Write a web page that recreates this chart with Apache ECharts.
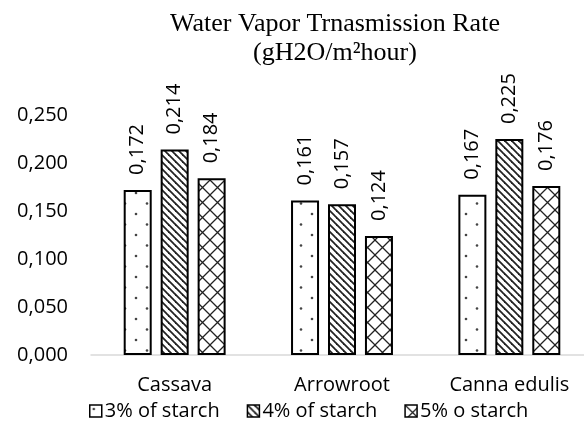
<!DOCTYPE html>
<html>
<head>
<meta charset="utf-8">
<script src="https://cdn.jsdelivr.net/npm/echarts@6/dist/echarts.min.js"></script>
<style>
html,body{margin:0;padding:0;background:#fff;overflow:hidden;}
#chart{width:600px;height:427px;}
</style>
</head>
<body>
<div id="chart"></div>
<script>
const categories = ['Cassava', 'Arrowroot', 'Canna edulis'];
const seriesNames = ['3% of starch', '4% of starch', '5% o starch'];
const starch3 = [0.172, 0.161, 0.167];
const starch4 = [0.214, 0.157, 0.225];
const starch5 = [0.184, 0.124, 0.176];
const yTicks = [0, 0.05, 0.10, 0.15, 0.20, 0.25];

function makeTile(w, h, draw) {
  const c = document.createElement('canvas');
  c.width = w; c.height = h;
  const ctx = c.getContext('2d');
  ctx.fillStyle = '#fff';
  ctx.fillRect(0, 0, w, h);
  draw(ctx, w, h);
  return c;
}
const dots = makeTile(22, 21, (ctx) => {
  ctx.fillStyle = '#444';
  ctx.beginPath(); ctx.arc(4, 4, 1.3, 0, Math.PI * 2); ctx.fill();
  ctx.beginPath(); ctx.arc(15, 14.5, 1.3, 0, Math.PI * 2); ctx.fill();
});
const stripes = makeTile(7, 7, (ctx, w, h) => {
  ctx.strokeStyle = '#222';
  ctx.lineWidth = 1.8;
  for (let k = -1; k <= 1; k++) {
    ctx.beginPath();
    ctx.moveTo(k * w - 1, -1);
    ctx.lineTo(k * w + w + 1, h + 1);
    ctx.stroke();
  }
});
const hatch = makeTile(15, 15, (ctx, w, h) => {
  ctx.strokeStyle = '#222';
  ctx.lineWidth = 1.3;
  for (let k = -1; k <= 1; k++) {
    ctx.beginPath();
    ctx.moveTo(k * w - 1, -1); ctx.lineTo(k * w + w + 1, h + 1);
    ctx.moveTo(k * w - 1, h + 1); ctx.lineTo(k * w + w + 1, -1);
    ctx.stroke();
  }
});
const patterns = [dots, stripes, hatch];
const dataSets = [starch3, starch4, starch5];

const fmt = v => v.toFixed(3).replace('.', ',');
const FONT = 'Open Sans';

const chart = echarts.init(document.getElementById('chart'), null, {renderer: 'canvas'});
chart.setOption({
  animation: false,
  backgroundColor: '#fff',
  title: {
    text: 'Water Vapor Trnasmission Rate\n(gH2O/m²hour)',
    left: 330,
    top: 5,
    textAlign: 'center',
    textStyle: {
      fontFamily: 'Liberation Serif',
      fontWeight: 'normal',
      fontSize: 26,
      lineHeight: 29,
      color: '#000'
    }
  },
  legend: {
    bottom: 1,
    left: 84,
    icon: 'rect',
    itemWidth: 12,
    itemHeight: 12,
    itemGap: 27,
    data: seriesNames,
    textStyle: {fontFamily: FONT, fontSize: 20, color: '#000', padding: [0, 0, 0, -2]},
    itemStyle: {borderColor: '#000', borderWidth: 1.5}
  },
  grid: {left: 91, width: 502, top: 115, bottom: 72, containLabel: false},
  xAxis: {
    type: 'category',
    data: categories,
    axisLine: {lineStyle: {color: '#d9d9d9', width: 1.5}},
    axisTick: {show: false},
    axisLabel: {fontFamily: FONT, fontSize: 20, color: '#000', margin: 20}
  },
  yAxis: {
    type: 'value',
    min: 0,
    max: 0.25,
    interval: 0.05,
    splitLine: {show: false},
    axisLine: {show: false},
    axisTick: {show: false},
    axisLabel: {
      fontFamily: FONT, fontSize: 20, color: '#000', margin: 23,
      formatter: v => fmt(v)
    }
  },
  series: seriesNames.map((name, i) => ({
    name: name,
    type: 'bar',
    data: dataSets[i],
    barWidth: 28,
    barGap: '32%',
    itemStyle: {
      color: {image: patterns[i], repeat: 'repeat'},
      borderColor: '#000',
      borderWidth: 2
    },
    label: {
      show: true,
      position: 'top',
      rotate: 90,
      align: 'left',
      verticalAlign: 'middle',
      distance: 15,
      fontFamily: FONT,
      fontSize: 20,
      color: '#000',
      formatter: p => fmt(p.value)
    }
  }))
});
</script>
</body>
</html>
